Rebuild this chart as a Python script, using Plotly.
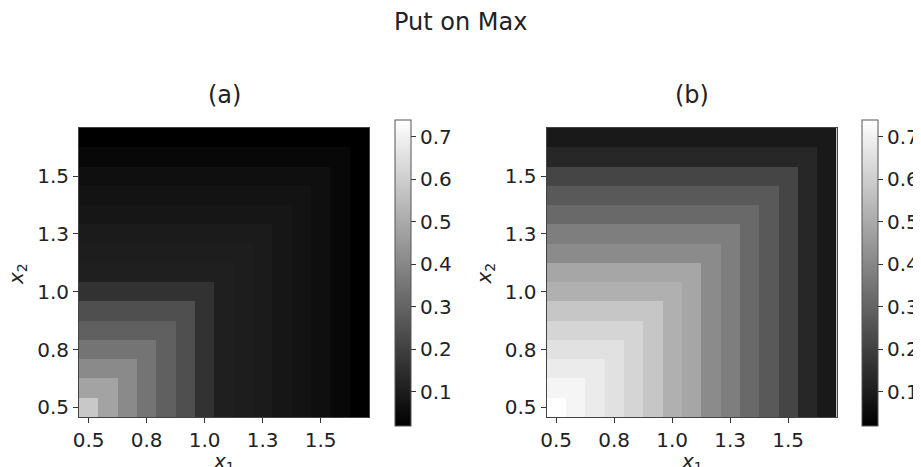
import plotly.graph_objects as go

# grid (cell centres)
grid = [0.5 + i / 12 for i in range(15)]

# values as a function of max(x1, x2) index
vals_a = [0.584, 0.480, 0.409, 0.347, 0.291, 0.243, 0.161, 0.107,
          0.102, 0.096, 0.082, 0.074, 0.062, 0.043, 0.020]
vals_b = [0.739, 0.711, 0.683, 0.655, 0.621, 0.578, 0.516, 0.488,
          0.413, 0.375, 0.316, 0.271, 0.215, 0.130, 0.090]

tick_vals = [0.5, 0.75, 1.0, 1.25, 1.5]
tick_text = ["0.5", "0.8", "1.0", "1.3", "1.5"]
cbar_ticks = [0.1, 0.2, 0.3, 0.4, 0.5, 0.6, 0.7]

zmin = min(vals_a + vals_b)
zmax = max(vals_a + vals_b)


def build(vals):
    n = len(grid)
    return [[vals[max(i, j)] for i in range(n)] for j in range(n)]


# page body has an 8px margin: lay the figure out in window pixels
OFF = 8
W, H = 921 - OFF, 467 - OFF


def px(x):
    return (x - OFF) / W


def py(y):
    return 1 - (y - OFF) / H


FONT = "DejaVu Sans"
TICK_SIZE = 20
TITLE_SIZE = 24
INK = "#222222"

fig = go.Figure()

panels = [
    (vals_a, "x", "y", (79, 369), 395, "(a)"),
    (vals_b, "x2", "y2", (546.5, 836.5), 862, "(b)"),
]
for vals, xa, ya, (x0, x1), cbx, lab in panels:
    fig.add_trace(go.Heatmap(
        x=grid, y=grid, z=build(vals), xaxis=xa, yaxis=ya,
        zmin=zmin, zmax=zmax,
        colorscale=[[0, "#000000"], [1, "#ffffff"]],
        colorbar=dict(
            x=px(cbx), xanchor="left", xref="paper",
            y=py(273), yanchor="middle", yref="paper",
            len=306 / H, lenmode="fraction", thickness=16,
            outlinecolor="#555555", outlinewidth=1,
            tickvals=cbar_ticks, ticks="outside", ticklen=5,
            tickcolor="#333333", ypad=0, xpad=0,
            tickfont=dict(family=FONT, size=TICK_SIZE, color=INK),
        ),
        hoverinfo="skip",
    ))

ydom = [py(417), py(128)]
rng = [grid[0] - 1 / 24, grid[-1] + 1 / 24]

axis_common = dict(
    range=rng, tickvals=tick_vals, ticktext=tick_text,
    ticks="outside", ticklen=5, tickcolor="#333333",
    showline=True, linecolor="#444444", linewidth=1, mirror=True,
    showgrid=False, zeroline=False, automargin=False,
    tickfont=dict(family=FONT, size=TICK_SIZE, color=INK),
)

layout = dict(
    width=W, height=H,
    margin=dict(l=0, r=0, t=0, b=0, autoexpand=False),
    paper_bgcolor="white", plot_bgcolor="white",
    font=dict(family=FONT, color=INK),
    showlegend=False,
)
for k, (vals, xa, ya, (x0, x1), cbx, lab) in enumerate(panels):
    xn = "xaxis" if k == 0 else "xaxis2"
    yn = "yaxis" if k == 0 else "yaxis2"
    layout[xn] = dict(axis_common, domain=[px(x0), px(x1)], anchor=ya)
    layout[yn] = dict(axis_common, domain=ydom, anchor=xa)

fig.update_layout(**layout)

fig.add_annotation(text="Put on Max", x=px(460.5), y=py(22), xref="paper",
                   yref="paper", showarrow=False, xanchor="center",
                   yanchor="middle", font=dict(family=FONT, size=TITLE_SIZE))

for k, (vals, xa, ya, (x0, x1), cbx, lab) in enumerate(panels):
    cx = (x0 + x1) / 2
    fig.add_annotation(text=lab, x=px(cx), y=py(95), xref="paper",
                       yref="paper", showarrow=False, xanchor="center",
                       yanchor="middle",
                       font=dict(family=FONT, size=TITLE_SIZE))
    fig.add_annotation(text="<i>x</i><sub>1</sub>", x=px(cx), y=py(462),
                       xref="paper", yref="paper", showarrow=False,
                       xanchor="center", yanchor="middle",
                       font=dict(family=FONT, size=TICK_SIZE))
    fig.add_annotation(text="<i>x</i><sub>2</sub>", x=px(x0 - 62),
                       y=py(274), xref="paper", yref="paper",
                       showarrow=False, textangle=-90,
                       xanchor="center", yanchor="middle",
                       font=dict(family=FONT, size=TICK_SIZE))

fig.write_html("out.html")
